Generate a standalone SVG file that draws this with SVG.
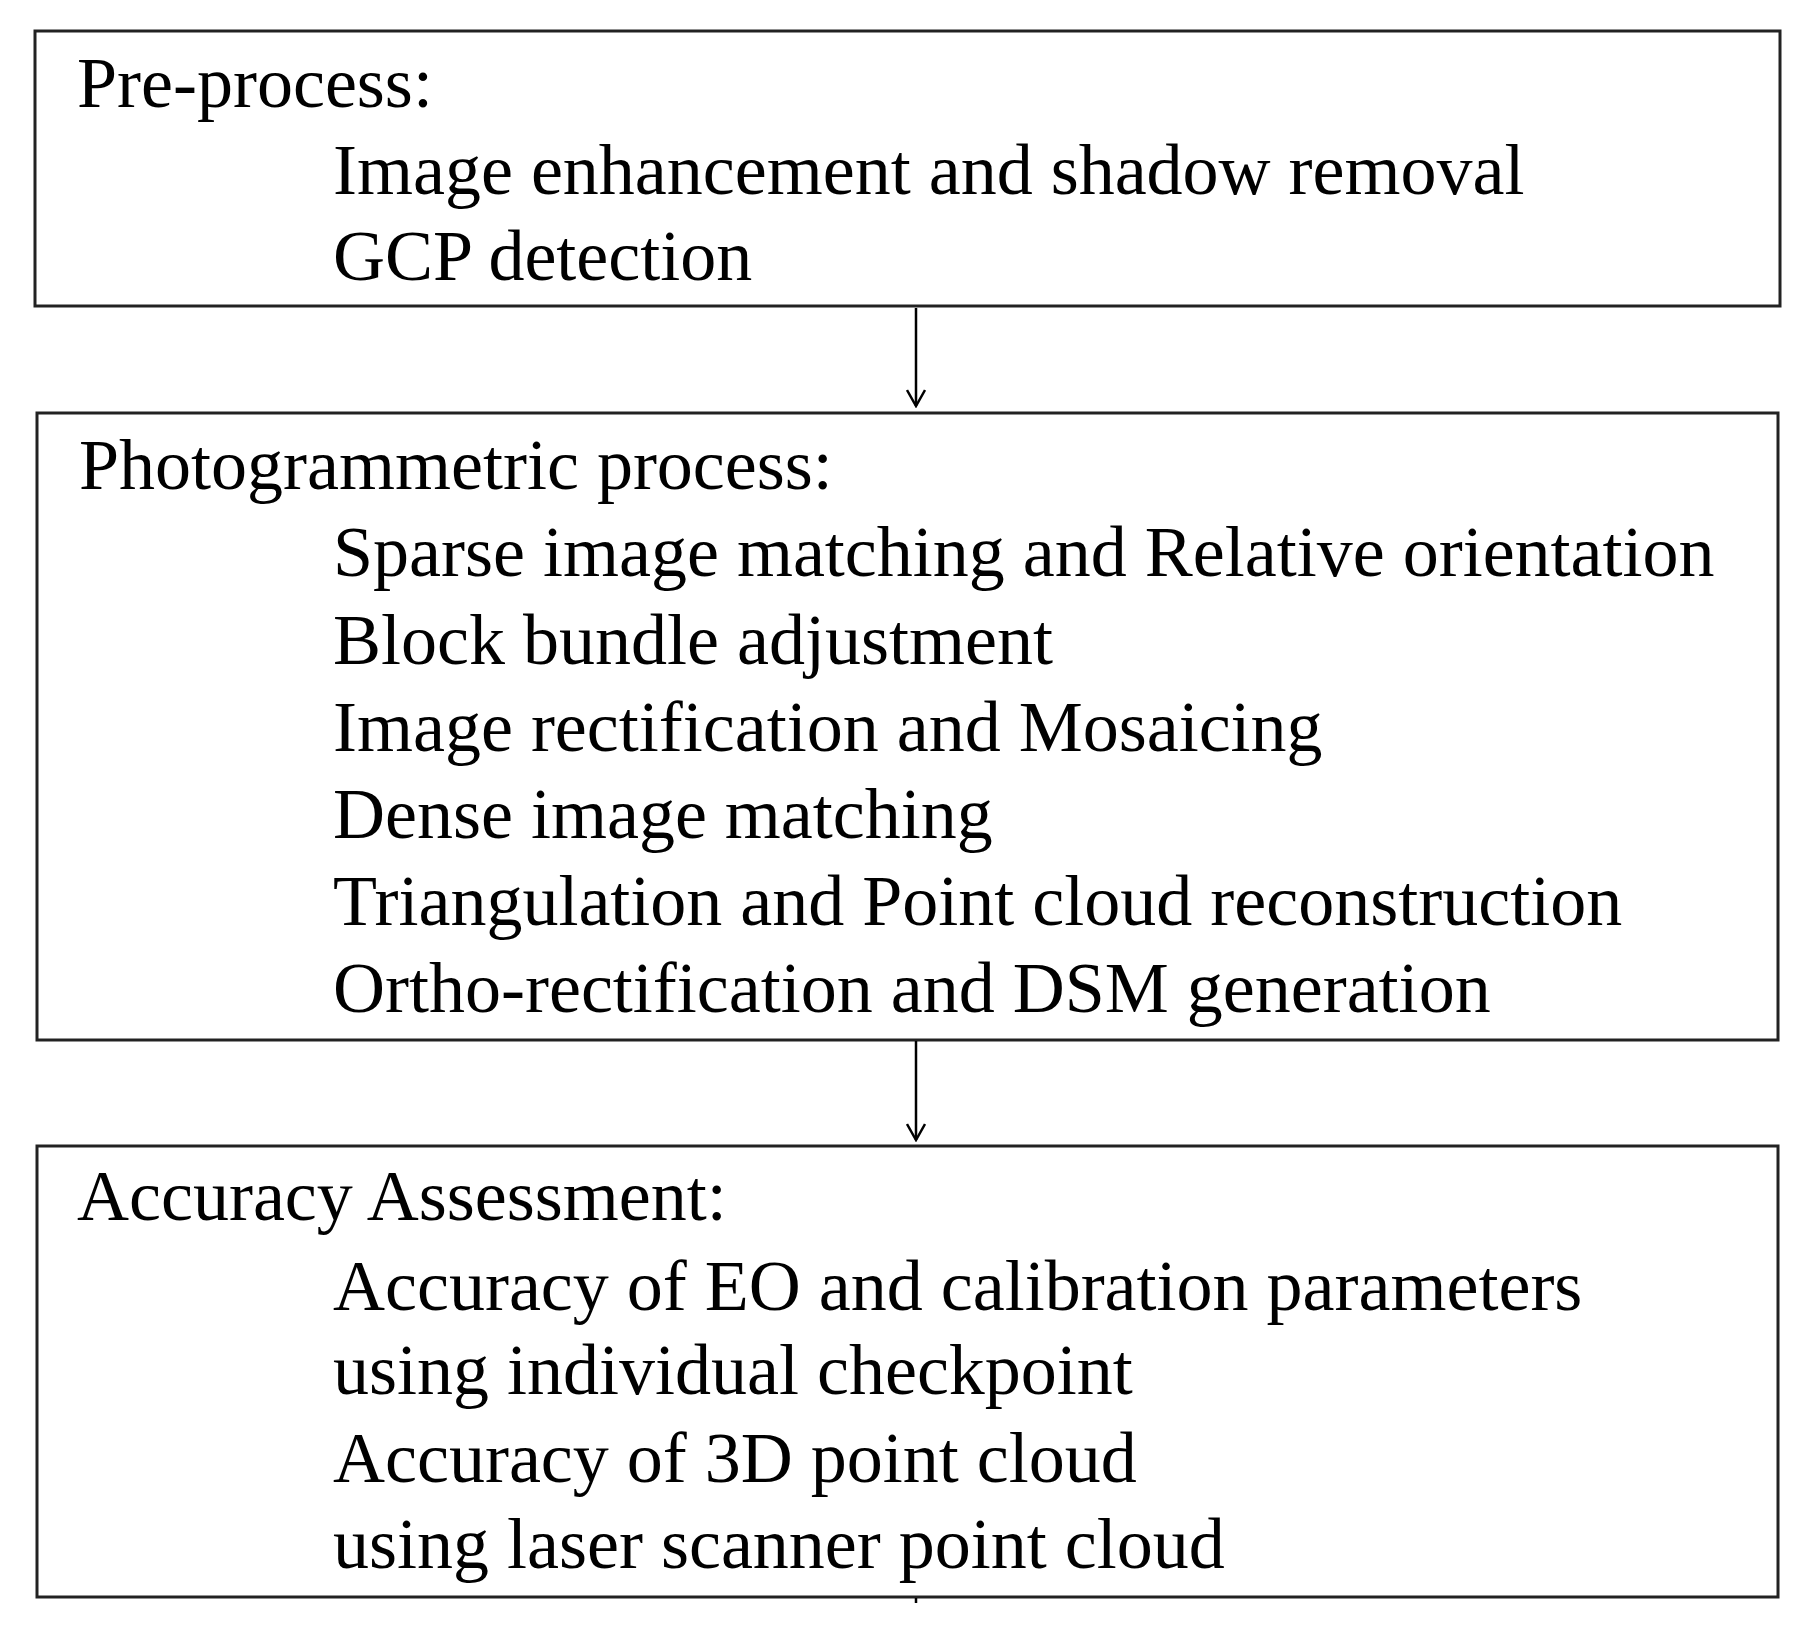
<svg xmlns="http://www.w3.org/2000/svg" width="1817" height="1646" viewBox="0 0 1817 1646">
<style>
.box{fill:#fff;stroke:#222;stroke-width:3}
text{font-family:"Liberation Serif","Times New Roman",serif;font-size:72px;fill:#000}
.c{stroke:#000;stroke-width:2.5;fill:none}
</style>
<defs><marker id="a" viewBox="0 0 20 20" refX="18" refY="10" markerWidth="20" markerHeight="20" markerUnits="userSpaceOnUse" orient="auto"><path d="M2,1 L18,10 L2,19" fill="none" stroke="#000" stroke-width="2.5"/></marker></defs>
<rect width="1817" height="1646" fill="#fff"/>
<g id="n1"><rect class="box" x="35" y="31" width="1745" height="275"/>
<text x="77" y="107">Pre-process:</text>
<text x="333" y="194">Image enhancement and shadow removal</text>
<text x="333" y="280">GCP detection</text></g>
<g id="n2"><rect class="box" x="37" y="413" width="1741" height="627"/>
<text x="79" y="489">Photogrammetric process:</text>
<text x="333" y="576">Sparse image matching and Relative orientation</text>
<text x="333" y="664">Block bundle adjustment</text>
<text x="333" y="751">Image rectification and Mosaicing</text>
<text x="333" y="838">Dense image matching</text>
<text x="333" y="925">Triangulation and Point cloud reconstruction</text>
<text x="333" y="1012">Ortho-rectification and DSM generation</text></g>
<g id="n3"><rect class="box" x="37" y="1146" width="1741" height="451"/>
<text x="77" y="1220">Accuracy Assessment:</text>
<text x="333" y="1310">Accuracy of EO and calibration parameters</text>
<text x="333" y="1394">using  individual checkpoint</text>
<text x="333" y="1482">Accuracy of 3D point cloud</text>
<text x="333" y="1568">using laser scanner point cloud</text></g>
<g id="connectors">
<line class="c" x1="916" y1="308" x2="916" y2="406" marker-end="url(#a)"/>
<line class="c" x1="916" y1="1041" x2="916" y2="1140" marker-end="url(#a)"/>
<line class="c" x1="916" y1="1598" x2="916" y2="1603"/>
</g>
</svg>
